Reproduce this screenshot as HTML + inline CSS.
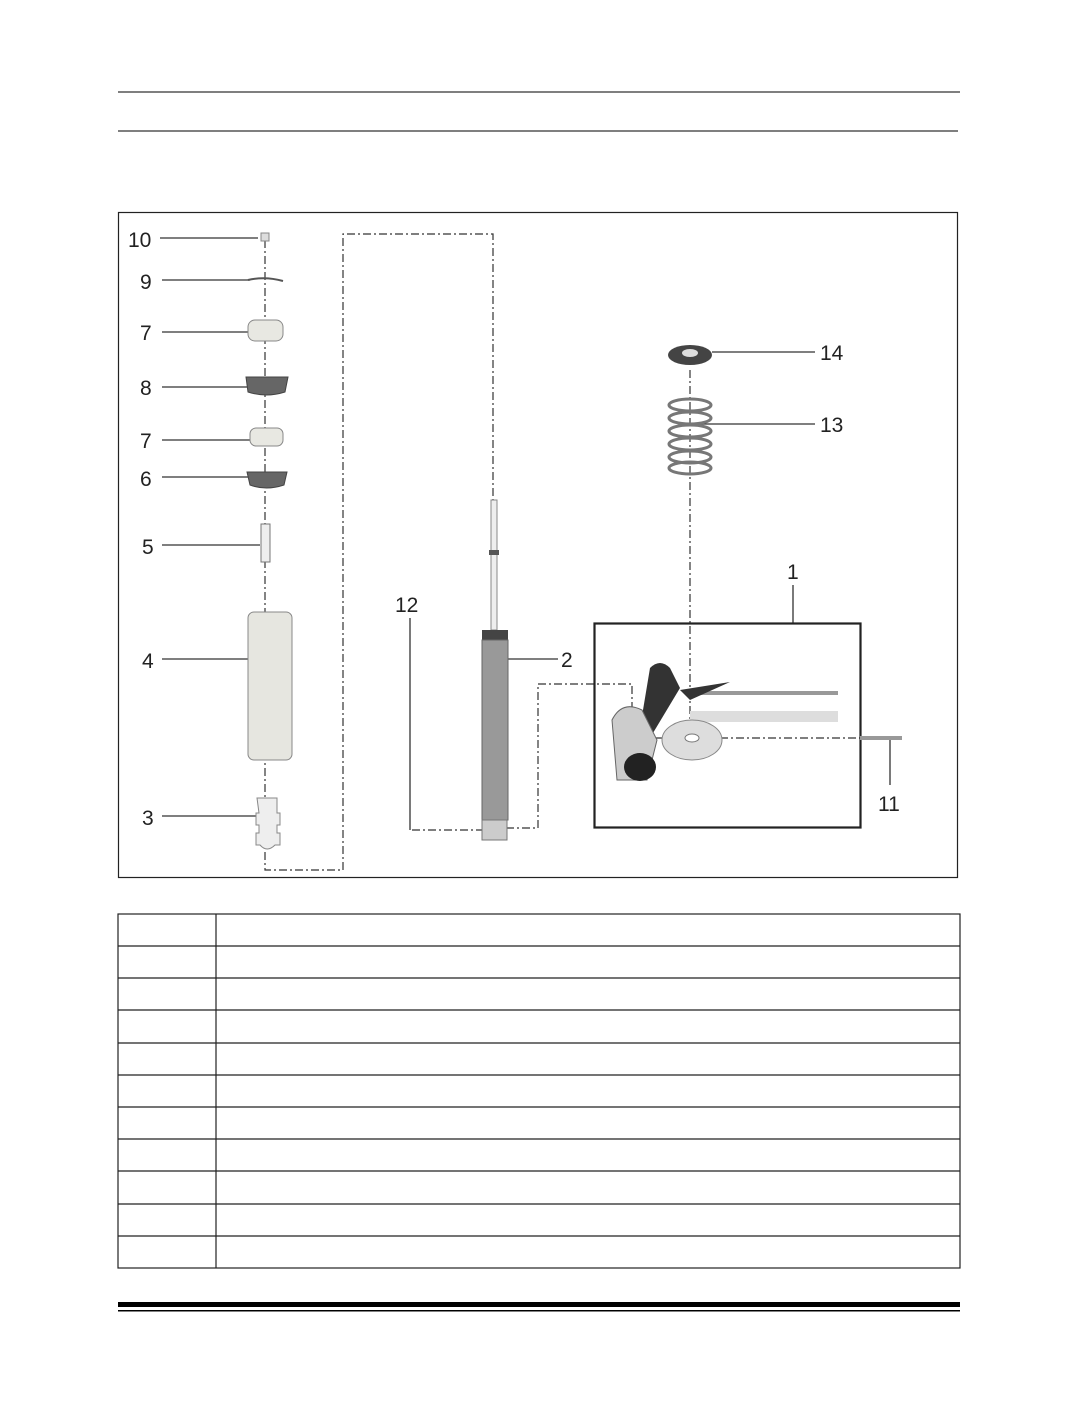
<!DOCTYPE html>
<html><head><meta charset="utf-8"><style>
html,body{margin:0;padding:0;background:#fff;}
svg{display:block;}
text{font-family:"Liberation Sans",sans-serif;font-size:21px;fill:#222;}
</style></head><body>
<svg width="1075" height="1422" viewBox="0 0 1075 1422">
<line x1="118" y1="92" x2="960" y2="92" stroke="#333" stroke-width="1.3"/>
<line x1="118" y1="131" x2="958" y2="131" stroke="#333" stroke-width="1.3"/>
<rect x="118.5" y="212.5" width="839" height="665" fill="none" stroke="#222" stroke-width="1.2"/>
<g fill="none" stroke="#333" stroke-width="1.2" stroke-dasharray="8,3,2,3">
<line x1="265" y1="240" x2="265" y2="800"/>
<path d="M265 852 V870 H343 V234 H493 V500"/>
<path d="M412 830 H482"/>
<path d="M506 828 H538 V684 H632 V740"/>
<line x1="690" y1="370" x2="690" y2="740"/>
<line x1="640" y1="738" x2="870" y2="738"/>
</g>
<g stroke="#333" stroke-width="1.3">
<line x1="160" y1="238" x2="258" y2="238"/>
<line x1="162" y1="280" x2="250" y2="280"/>
<line x1="162" y1="332" x2="256" y2="332"/>
<line x1="162" y1="387" x2="256" y2="387"/>
<line x1="162" y1="440" x2="256" y2="440"/>
<line x1="162" y1="477" x2="256" y2="477"/>
<line x1="162" y1="545" x2="260" y2="545"/>
<line x1="162" y1="659" x2="248" y2="659"/>
<line x1="162" y1="816" x2="256" y2="816"/>
<line x1="508" y1="659" x2="558" y2="659"/>
<line x1="410" y1="618" x2="410" y2="830"/>
<line x1="712" y1="352" x2="815" y2="352"/>
<line x1="700" y1="424" x2="815" y2="424"/>
<line x1="793" y1="585" x2="793" y2="623"/>
<line x1="890" y1="740" x2="890" y2="785"/>
</g>
<!-- parts left -->
<rect x="261" y="233" width="8" height="8" fill="#ddd" stroke="#888"/>
<path d="M248 280 Q265 276 283 281" stroke="#555" stroke-width="2" fill="none"/>
<rect x="248" y="320" width="35" height="21" rx="7" fill="#e8e8e2" stroke="#888"/>
<path d="M246 377 H288 L285 392 Q266 398 248 392 Z" fill="#666" stroke="#444"/>
<rect x="250" y="428" width="33" height="18" rx="6" fill="#e8e8e2" stroke="#888"/>
<path d="M247 472 H287 L284 485 Q266 491 250 485 Z" fill="#666" stroke="#444"/>
<rect x="261" y="524" width="9" height="38" fill="#eee" stroke="#777"/>
<rect x="248" y="612" width="44" height="148" rx="6" fill="#e6e6e0" stroke="#888"/>
<path d="M257 798 h20 v15 h3 v12 h-3 v8 h3 v12 h-5 q-8 8 -15 0 h-4 v-12 h3 v-8 h-3 v-12 h3 z" fill="#eee" stroke="#888"/>
<!-- shock -->
<rect x="491" y="500" width="6" height="130" fill="#eee" stroke="#888"/>
<rect x="489" y="550" width="10" height="5" fill="#555"/>
<rect x="482" y="630" width="26" height="10" fill="#444"/>
<rect x="482" y="640" width="26" height="180" fill="#999" stroke="#666"/>
<rect x="482" y="820" width="25" height="20" fill="#ccc" stroke="#777"/>
<!-- 14 and 13 -->
<ellipse cx="690" cy="355" rx="22" ry="10" fill="#444"/>
<ellipse cx="690" cy="353" rx="8" ry="4" fill="#ddd"/>
<g fill="none" stroke="#777" stroke-width="3">
<ellipse cx="690" cy="405" rx="21" ry="6"/><ellipse cx="690" cy="418" rx="21" ry="6"/>
<ellipse cx="690" cy="431" rx="21" ry="6"/><ellipse cx="690" cy="444" rx="21" ry="6"/>
<ellipse cx="690" cy="457" rx="21" ry="6"/><ellipse cx="690" cy="468" rx="21" ry="6"/>
</g>
<!-- box 1 -->
<rect x="594.5" y="623.5" width="266" height="204" fill="none" stroke="#222" stroke-width="2.2"/>
<rect x="690" y="691" width="148" height="4" fill="#999"/>
<rect x="690" y="711" width="148" height="11" fill="#ddd"/>
<path d="M650 668 q10-10 20 0 l10 20 l-30 50 l-10 -10 z" fill="#333"/>
<path d="M680 690 l50 -8 l-40 18 z" fill="#333"/>
<ellipse cx="692" cy="740" rx="30" ry="20" fill="#ddd" stroke="#888"/>
<ellipse cx="692" cy="738" rx="7" ry="4" fill="#fff" stroke="#777"/>
<path d="M612 720 q10-20 30-10 l15 30 l-10 40 l-30 0 z" fill="#ccc" stroke="#666"/>
<ellipse cx="640" cy="767" rx="16" ry="14" fill="#222"/>
<rect x="860" y="736" width="42" height="4" fill="#999"/>
<!-- labels -->
<text x="128" y="247">10</text>
<text x="140" y="289">9</text>
<text x="140" y="340">7</text>
<text x="140" y="395">8</text>
<text x="140" y="448">7</text>
<text x="140" y="486">6</text>
<text x="142" y="554">5</text>
<text x="142" y="668">4</text>
<text x="142" y="825">3</text>
<text x="561" y="667">2</text>
<text x="395" y="612">12</text>
<text x="820" y="360">14</text>
<text x="820" y="432">13</text>
<text x="787" y="579">1</text>
<text x="878" y="811">11</text>
<!-- table -->
<g stroke="#222" stroke-width="1.2" fill="none">
<rect x="118" y="914" width="842" height="354"/>
<line x1="216" y1="914" x2="216" y2="1268"/>
<line x1="118" y1="946" x2="960" y2="946"/>
<line x1="118" y1="978" x2="960" y2="978"/>
<line x1="118" y1="1010" x2="960" y2="1010"/>
<line x1="118" y1="1043" x2="960" y2="1043"/>
<line x1="118" y1="1075" x2="960" y2="1075"/>
<line x1="118" y1="1107" x2="960" y2="1107"/>
<line x1="118" y1="1139" x2="960" y2="1139"/>
<line x1="118" y1="1171" x2="960" y2="1171"/>
<line x1="118" y1="1204" x2="960" y2="1204"/>
<line x1="118" y1="1236" x2="960" y2="1236"/>
</g>
<rect x="118" y="1302" width="842" height="5" fill="#000"/>
<rect x="118" y="1310" width="842" height="1.5" fill="#000"/>
</svg>
</body></html>
